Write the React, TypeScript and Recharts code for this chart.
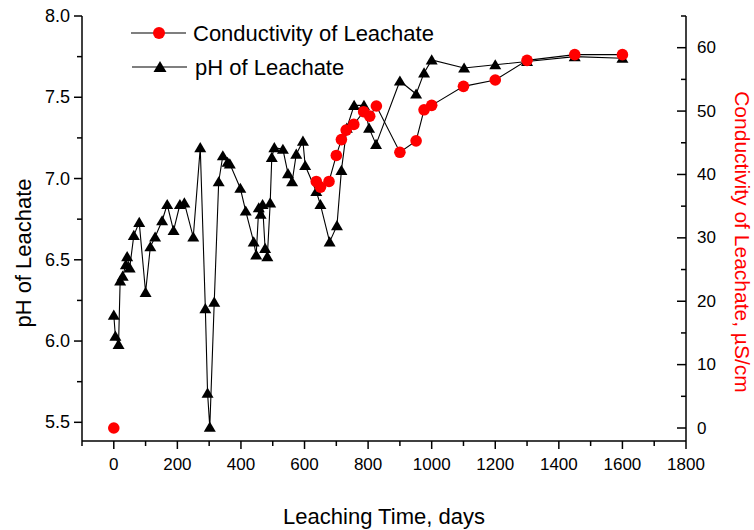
import React from 'react';
import { LineChart, Line, XAxis, YAxis } from 'recharts';

const phDays = [0,5,15,20,28,38,42,50,63,80,100,115,130,152,168,188,208,222,250,272,288,295,302,316,330,343,358,365,398,415,440,448,456,462,468,476,483,492,497,505,532,548,561,574,595,602,637,650,679,702,716,733,756,787,803,825,900,951,976,1000,1102,1200,1300,1450,1600];
const phValues = [6.16,6.03,5.98,6.37,6.40,6.47,6.52,6.45,6.65,6.73,6.30,6.58,6.64,6.74,6.84,6.68,6.84,6.85,6.64,7.19,6.20,5.68,5.47,6.24,6.98,7.14,7.10,7.09,6.94,6.80,6.61,6.53,6.82,6.78,6.84,6.57,6.52,6.85,7.13,7.19,7.18,7.03,6.98,7.15,7.23,7.08,6.92,6.84,6.61,6.71,7.05,7.31,7.45,7.45,7.31,7.21,7.60,7.52,7.65,7.73,7.68,7.70,7.72,7.75,7.74];

const condDays = [0,300,637,650,677,700,716,731,755,786,805,826,900,951,976,1000,1100,1200,1300,1450,1600];
const condValues: (number | null)[] = [0,null,38.9,38.0,38.9,43.0,45.5,47.0,47.9,49.9,49.2,50.8,43.5,45.3,50.2,50.9,53.9,54.9,58.0,58.9,58.9];

const xTicks = [-100,0,100,200,300,400,500,600,700,800,900,1000,1100,1200,1300,1400,1500,1600,1700,1800];
const phTicks = [5.5,5.75,6.0,6.25,6.5,6.75,7.0,7.25,7.5,7.75,8.0];
const condTicks = [0,5,10,15,20,25,30,35,40,45,50,55,60,65];

const phData = phDays.map((d, i) => ({ day: d, ph: phValues[i] }));
const condData = condDays.map((d, i) => ({ day: d, cond: condValues[i] }));

const FONT = 'Liberation Sans, Arial, Helvetica, sans-serif';

const Triangle = (props: any) => {
  const { cx, cy, size = 12 } = props;
  if (cx == null || cy == null) return null;
  const h = size * 0.85;
  return (
    <path
      d={`M${cx},${cy - h * 0.55} L${cx - size / 2},${cy + h * 0.45} L${cx + size / 2},${cy + h * 0.45} Z`}
      fill="#000"
      stroke="none"
    />
  );
};

const Circle = (props: any) => {
  const { cx, cy, payload } = props;
  if (cx == null || cy == null || payload == null || payload.cond == null) return null;
  return <circle cx={cx} cy={cy} r={5.8} fill="#FF0000" stroke="none" />;
};

const LeftTick = (props: any) => {
  const { x, y, payload } = props;
  const v = payload.value;
  const major = Math.abs(v * 2 - Math.round(v * 2)) < 1e-6;
  return (
    <g>
      <line x1={x - (major ? 8 : 5)} x2={x} y1={y} y2={y} stroke="#000" strokeWidth={1.5} />
      {major && (
        <text x={x - 12} y={y} textAnchor="end" dominantBaseline="central" fontSize={18} fill="#000" fontFamily={FONT}>
          {v.toFixed(1)}
        </text>
      )}
    </g>
  );
};

const RightTick = (props: any) => {
  const { x, y, payload } = props;
  const v = payload.value;
  const major = v % 10 === 0;
  return (
    <g>
      <line x1={x - (major ? 9 : 5)} x2={x} y1={y} y2={y} stroke="#000" strokeWidth={1.5} />
      {major && (
        <text x={x + 11} y={y} textAnchor="start" dominantBaseline="central" fontSize={17} fill="#000" fontFamily={FONT}>
          {v}
        </text>
      )}
    </g>
  );
};

const BottomTick = (props: any) => {
  const { x, y, payload } = props;
  const v = payload.value;
  const major = v % 200 === 0;
  return (
    <g>
      <line x1={x} x2={x} y1={y} y2={y + (major ? 8 : 5)} stroke="#000" strokeWidth={1.5} />
      {major && (
        <text x={x} y={y + 23} textAnchor="middle" dominantBaseline="central" fontSize={17} fill="#000" fontFamily={FONT}>
          {v}
        </text>
      )}
    </g>
  );
};

export default function App() {
  return (
    <div style={{ width: 754, height: 530, position: 'relative', background: '#fff', fontFamily: FONT }}>
      <style>{'body{margin:0;background:#fff}'}</style>
      <LineChart width={754} height={530} margin={{ top: 16, right: 0, bottom: 0, left: 0 }}>
        <XAxis
          dataKey="day"
          type="number"
          domain={[-100, 1800]}
          ticks={xTicks}
          interval={0}
          height={89}
          tickSize={0}
          tickMargin={0}
          tickLine={false}
          axisLine={{ stroke: '#000', strokeWidth: 1.5 }}
          tick={<BottomTick />}
          allowDuplicatedCategory={false}
        />
        <YAxis
          yAxisId="ph"
          orientation="left"
          type="number"
          domain={[5.385, 8]}
          ticks={phTicks}
          interval={0}
          width={82}
          tickSize={0}
          tickMargin={0}
          tickLine={false}
          axisLine={{ stroke: '#000', strokeWidth: 1.5 }}
          tick={<LeftTick />}
          allowDataOverflow
        />
        <YAxis
          yAxisId="c"
          orientation="right"
          type="number"
          domain={[-2.05, 65]}
          ticks={condTicks}
          interval={0}
          width={68}
          tickSize={0}
          tickMargin={0}
          tickLine={false}
          axisLine={{ stroke: '#000', strokeWidth: 1.5 }}
          tick={<RightTick />}
          allowDataOverflow
        />
        <Line
          yAxisId="ph"
          data={phData}
          dataKey="ph"
          type="linear"
          stroke="#000"
          strokeWidth={1.1}
          dot={<Triangle size={12} />}
          activeDot={false}
          isAnimationActive={false}
        />
        <Line
          yAxisId="c"
          data={condData}
          dataKey="cond"
          type="linear"
          stroke="#000"
          strokeWidth={1.1}
          dot={<Circle />}
          activeDot={false}
          connectNulls={false}
          isAnimationActive={false}
        />
      </LineChart>
      <svg width={754} height={530} style={{ position: 'absolute', left: 0, top: 0, pointerEvents: 'none' }}>
        <line x1={131} x2={186} y1={33} y2={33} stroke="#000" strokeWidth={1.2} />
        <circle cx={159} cy={33} r={6} fill="#FF0000" />
        <text x={193} y={33} dominantBaseline="central" fontSize={22} fontFamily={FONT} fill="#000">
          Conductivity of Leachate
        </text>
        <line x1={132} x2={187} y1={67} y2={67} stroke="#000" strokeWidth={1.2} />
        <Triangle cx={160} cy={67} size={13} />
        <text x={195} y={67} dominantBaseline="central" fontSize={22} fontFamily={FONT} fill="#000">
          pH of Leachate
        </text>
        <text x={31} y={253} transform="rotate(-90 31 253)" textAnchor="middle" fontSize={22} fontFamily={FONT} fill="#000">
          pH of Leachate
        </text>
        <text x={735} y={242} transform="rotate(90 735 242)" textAnchor="middle" fontSize={21} fontFamily={FONT} fill="#FF0000">
          Conductivity of Leachate, µS/cm
        </text>
        <text x={384} y={524} textAnchor="middle" fontSize={22} fontFamily={FONT} fill="#000">
          Leaching Time, days
        </text>
      </svg>
    </div>
  );
}
